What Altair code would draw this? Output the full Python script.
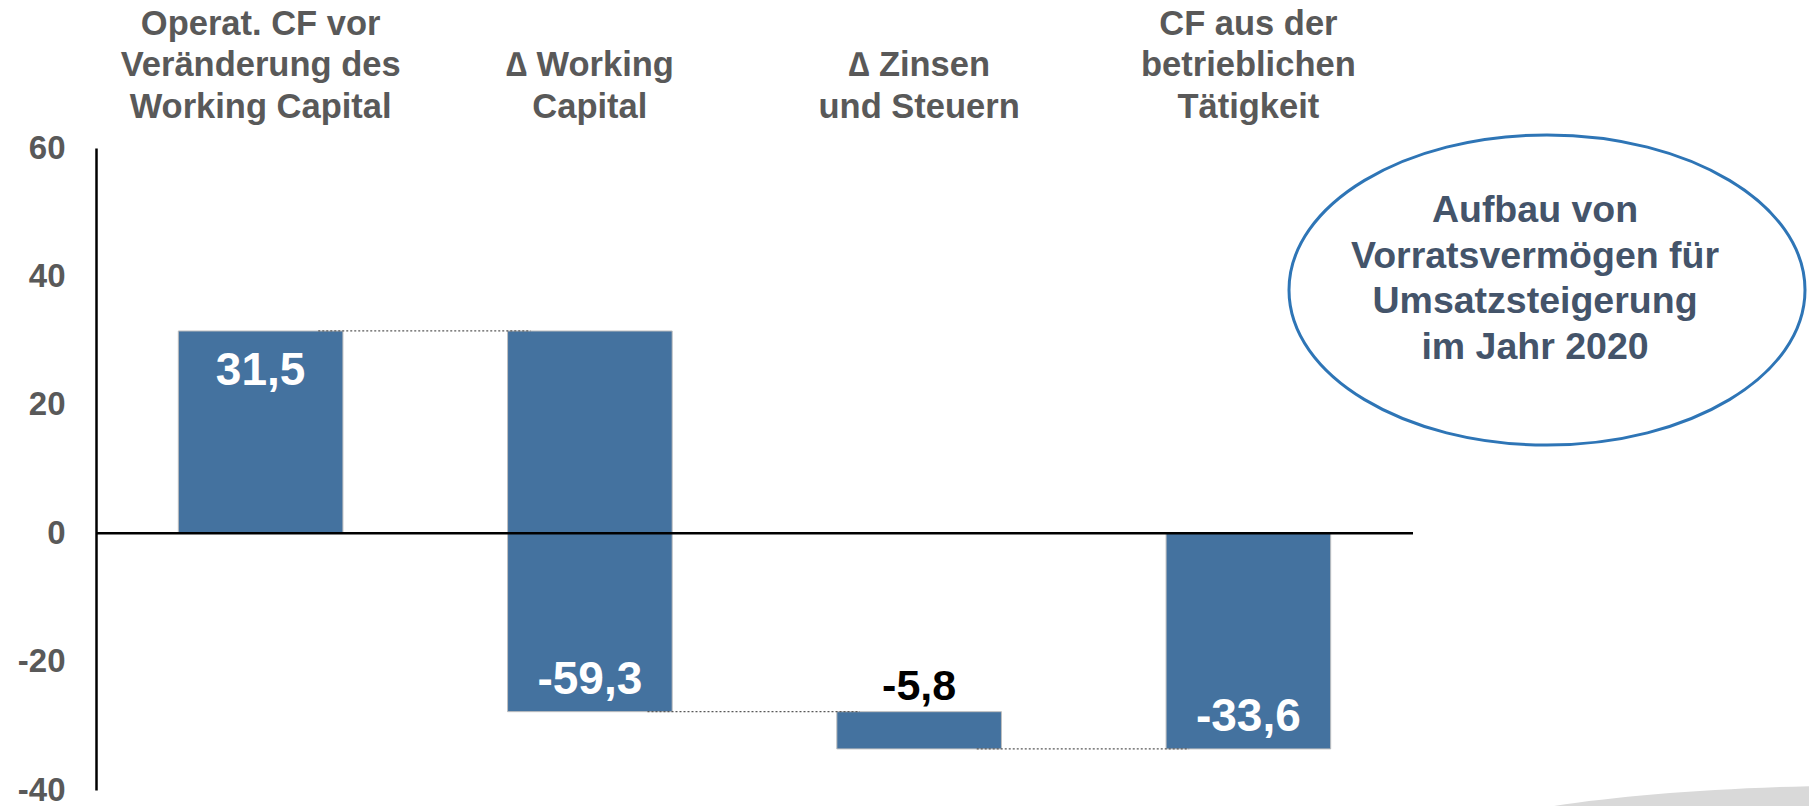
import altair as alt
import pandas as pd

# ---- data ----
categories = [
    "Operat. CF vor\nVeränderung des\nWorking Capital",
    "∆ Working\nCapital",
    "∆ Zinsen\nund Steuern",
    "CF aus der\nbetrieblichen\nTätigkeit",
]
values = [31.5, -59.3, -5.8, -33.6]
is_total = [False, False, False, True]
y_ticks = [60, 40, 20, 0, -20, -40]
note_lines = ["Aufbau von", "Vorratsvermögen für", "Umsatzsteigerung", "im Jahr 2020"]

# ---- waterfall table ----
rows = []
running = 0.0
for cat, v, tot in zip(categories, values, is_total):
    if tot:
        start, end = 0.0, v
    else:
        start, end = running, running + v
    running = end
    rows.append(dict(cat=cat, value=v, start=start, end=end,
                     top=max(start, end), bottom=min(start, end),
                     label=f"{v:.1f}".replace(".", ",")))
df = pd.DataFrame(rows)

conn = pd.DataFrame([
    dict(cat=categories[i], nxt=categories[i + 1], level=rows[i]["end"])
    for i in range(len(categories) - 1)
])

FONT = "Liberation Sans"
BAR = "#44729F"

xscale = alt.Scale(domain=categories, paddingInner=0.5, paddingOuter=0.25)
yscale = alt.Scale(domain=[-40, 60], nice=False, zero=False)

# labels are bottom-aligned: pad shorter labels with empty leading lines
label_expr = (
    "split((length(split(datum.label, '\\n')) < 3 ? '\\n' : '') + datum.label, '\\n')"
)

x_enc = alt.X(
    "cat:N", scale=xscale, sort=categories, title=None,
    axis=alt.Axis(
        orient="top", domain=False, ticks=False, labelAngle=0,
        labelExpr=label_expr,
        labelFont=FONT, labelFontSize=34.5, labelFontWeight="bold",
        labelColor="#595959", labelLineHeight=41.5, labelPadding=107,
        labelLimit=600,
    ),
)

bars = alt.Chart(df).mark_bar(color=BAR, stroke="#BFBFBF", strokeWidth=1).encode(
    x=x_enc,
    y=alt.Y(
        "start:Q", scale=yscale, title=None,
        axis=alt.Axis(
            values=y_ticks, grid=False, ticks=False, domain=True,
            domainColor="black", domainWidth=2.5,
            labelExpr="datum.value + ''",
            labelFont=FONT, labelFontSize=33, labelFontWeight="bold",
            labelColor="#595959", labelPadding=31,
        ),
    ),
    y2="end:Q",
)

connectors = alt.Chart(conn).mark_rule(
    color="#595959", strokeWidth=1.3, strokeDash=[2, 2]
).encode(
    x=alt.X("cat:N", scale=xscale, sort=categories, bandPosition=0.85),
    x2=alt.X2("nxt:N", bandPosition=0.14),
    y=alt.Y("level:Q", scale=yscale),
)

zero = alt.Chart(pd.DataFrame({"z": [0]})).mark_rule(
    color="black", strokeWidth=2.5
).encode(y=alt.Y("z:Q", scale=yscale))

txt_common = dict(font=FONT, fontWeight="bold", baseline="alphabetic", align="center")

lbl_top = alt.Chart(df).transform_filter("datum.value > 0").mark_text(
    color="white", dy=54, fontSize=46, **txt_common
).encode(x=alt.X("cat:N", scale=xscale, sort=categories), y=alt.Y("top:Q", scale=yscale), text="label:N")

lbl_bottom = alt.Chart(df).transform_filter(
    "datum.value < 0 && abs(datum.value) >= 10"
).mark_text(color="white", dy=-18, fontSize=46, **txt_common).encode(
    x=alt.X("cat:N", scale=xscale, sort=categories), y=alt.Y("bottom:Q", scale=yscale), text="label:N"
)

lbl_out = alt.Chart(df).transform_filter("abs(datum.value) < 10").mark_text(
    color="black", dy=-12, fontSize=43, **txt_common
).encode(x=alt.X("cat:N", scale=xscale, sort=categories), y=alt.Y("top:Q", scale=yscale), text="label:N")

one = pd.DataFrame({"note": [" ".join(note_lines)]})

ellipse = alt.Chart(one).mark_point(
    shape="M -1 0 A 1 0.601 0 1 1 1 0 A 1 0.601 0 1 1 -1 0 Z",
    size=266256, filled=False, stroke="#2E75B6", strokeWidth=3, opacity=1,
).encode(x=alt.value(1451), y=alt.value(142))

swoosh = alt.Chart(one).mark_point(
    shape="M -1 0 A 1 0.1333 0 1 1 1 0 A 1 0.1333 0 1 1 -1 0 Z",
    size=810000, filled=True, fill="#D9D9D9", strokeWidth=0, opacity=1,
).encode(x=alt.value(1800), y=alt.value(697))

note = alt.Chart(one).mark_text(
    text=note_lines, font=FONT, fontSize=37.5, fontWeight="bold",
    color="#44546A", lineHeight=45.5, align="center", baseline="middle",
).encode(x=alt.value(1439), y=alt.value(63))

chart = alt.layer(
    swoosh, bars, connectors, zero, lbl_top, lbl_bottom, lbl_out, ellipse, note
).properties(
    width=1317, height=642,
    autosize=alt.AutoSizeParams(type="none"),
    padding={"left": 96, "top": 148, "right": 396, "bottom": 16},
    background="white",
).configure_view(stroke=None)

chart.save("out.html", embed_options={"renderer": "svg", "actions": False})
